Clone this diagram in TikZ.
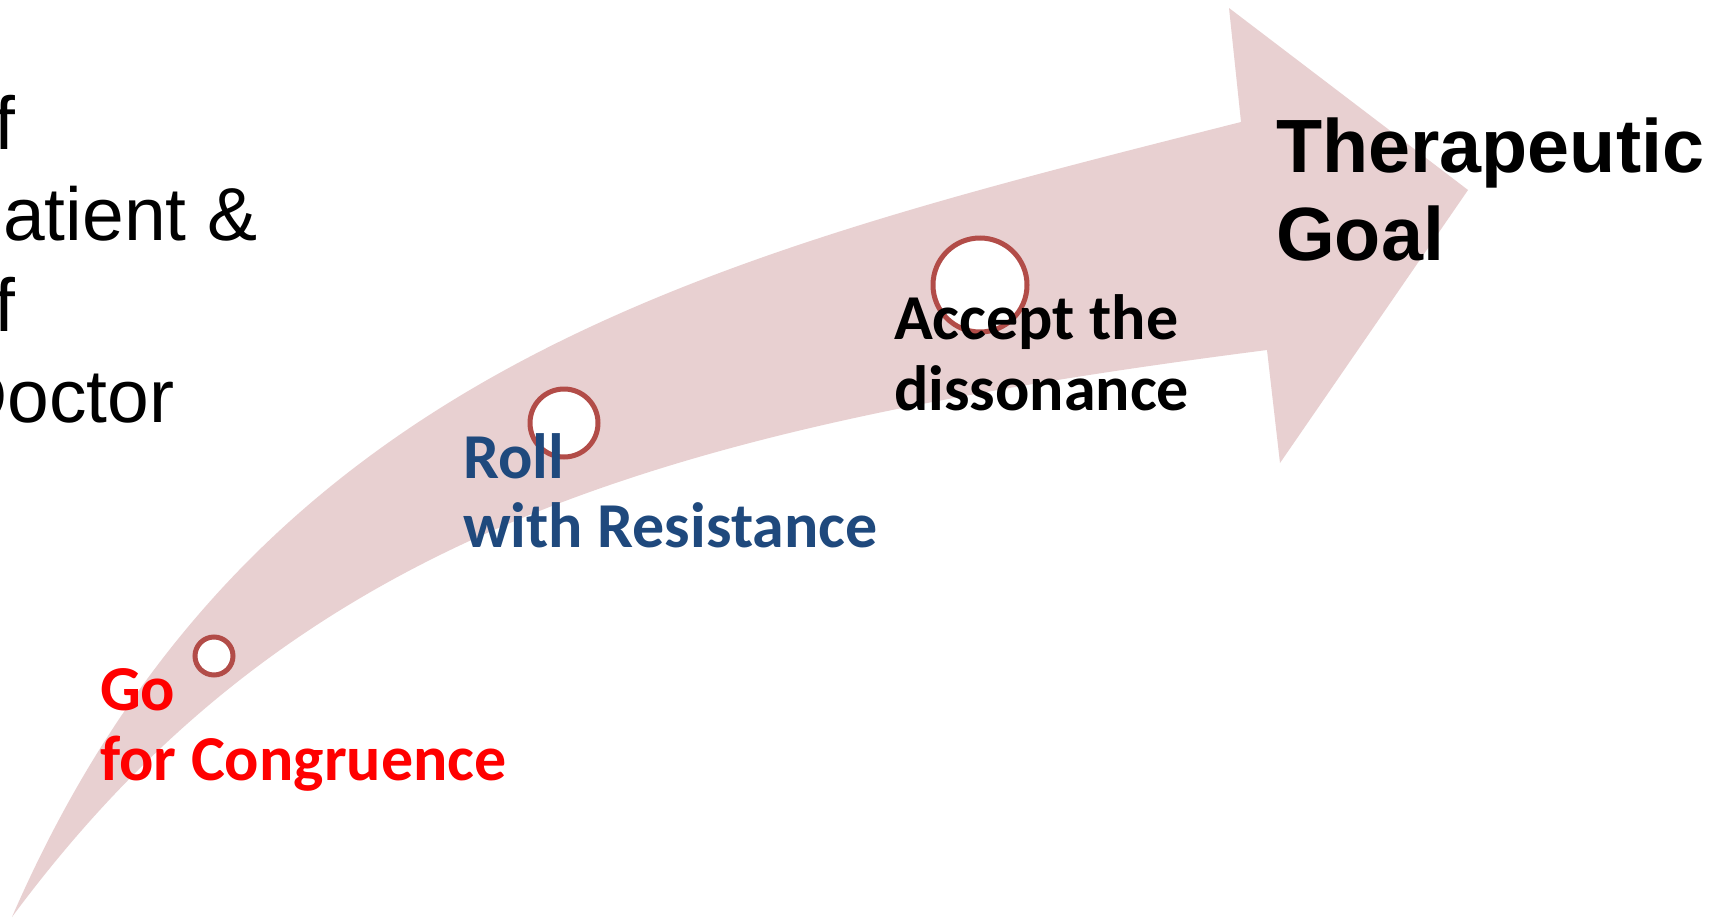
\documentclass[tikz,border=0pt]{standalone}
\usepackage{fontspec}
\newfontfamily\calibfont{Carlito}
\newfontfamily\arialfont{Liberation Sans}
\definecolor{arrowpink}{RGB}{232,208,209}
\definecolor{ringred}{RGB}{178,76,72}
\definecolor{stepblue}{RGB}{31,73,125}
\definecolor{stepred}{RGB}{255,0,0}
\tikzset{
  ring/.style={circle, draw=ringred, fill=white, line width=5pt, inner sep=0pt},
  steptext/.style={anchor=base west, inner sep=0pt, font=\calibfont\bfseries\fontsize{64pt}{70pt}\selectfont},
  goaltext/.style={anchor=base west, inner sep=0pt, font=\arialfont\bfseries\fontsize{75.5pt}{88pt}\selectfont},
  sidetext/.style={anchor=base west, inner sep=0pt, font=\arialfont\fontsize{75pt}{91pt}\selectfont}
}
\begin{document}
\begin{tikzpicture}[x=1pt,y=-1pt]
\useasboundingbox (0,0) rectangle (1711,918);
\clip (0,0) rectangle (1711,918);
\fill[white] (0,0) rectangle (1711,918);
% curved arrow
\fill[arrowpink]
  (12,917) .. controls (251,367) and (708,257) .. (1241,122)
  -- (1229,8) -- (1468,190) -- (1280,463) -- (1267,350)
  .. controls (652,429) and (292,539) .. (12,917)
  -- cycle;
% rings
\node[ring, minimum size=38pt] (c1) at (214,656) {};
\node[ring, minimum size=68pt] (c2) at (564,423) {};
\node[ring, minimum size=94pt] (c3) at (980,285) {};
% side text (cut off at the left edge)
\node[sidetext] (s1) at (-47,149) {of};
\node[sidetext] (s2) at (-47,240) {Patient \&};
\node[sidetext] (s3) at (-47,331) {of};
\node[sidetext] (s4) at (-47,422) {Doctor};
% step labels
\node[steptext, text=stepred] (go1) at (100,710) {Go};
\node[steptext, text=stepred] (go2) at (100,780) {for Congruence};
\node[steptext, text=stepblue] (roll1) at (463,478) {Roll};
\node[steptext, text=stepblue] (roll2) at (463,547) {with Resistance};
\node[steptext, text=black] (acc1) at (894,339) {Accept the};
\node[steptext, text=black] (acc2) at (894,410) {dissonance};
% goal
\node[goaltext] (g1) at (1276,172) {Therapeutic};
\node[goaltext] (g2) at (1276,260) {Goal};
\end{tikzpicture}
\end{document}
